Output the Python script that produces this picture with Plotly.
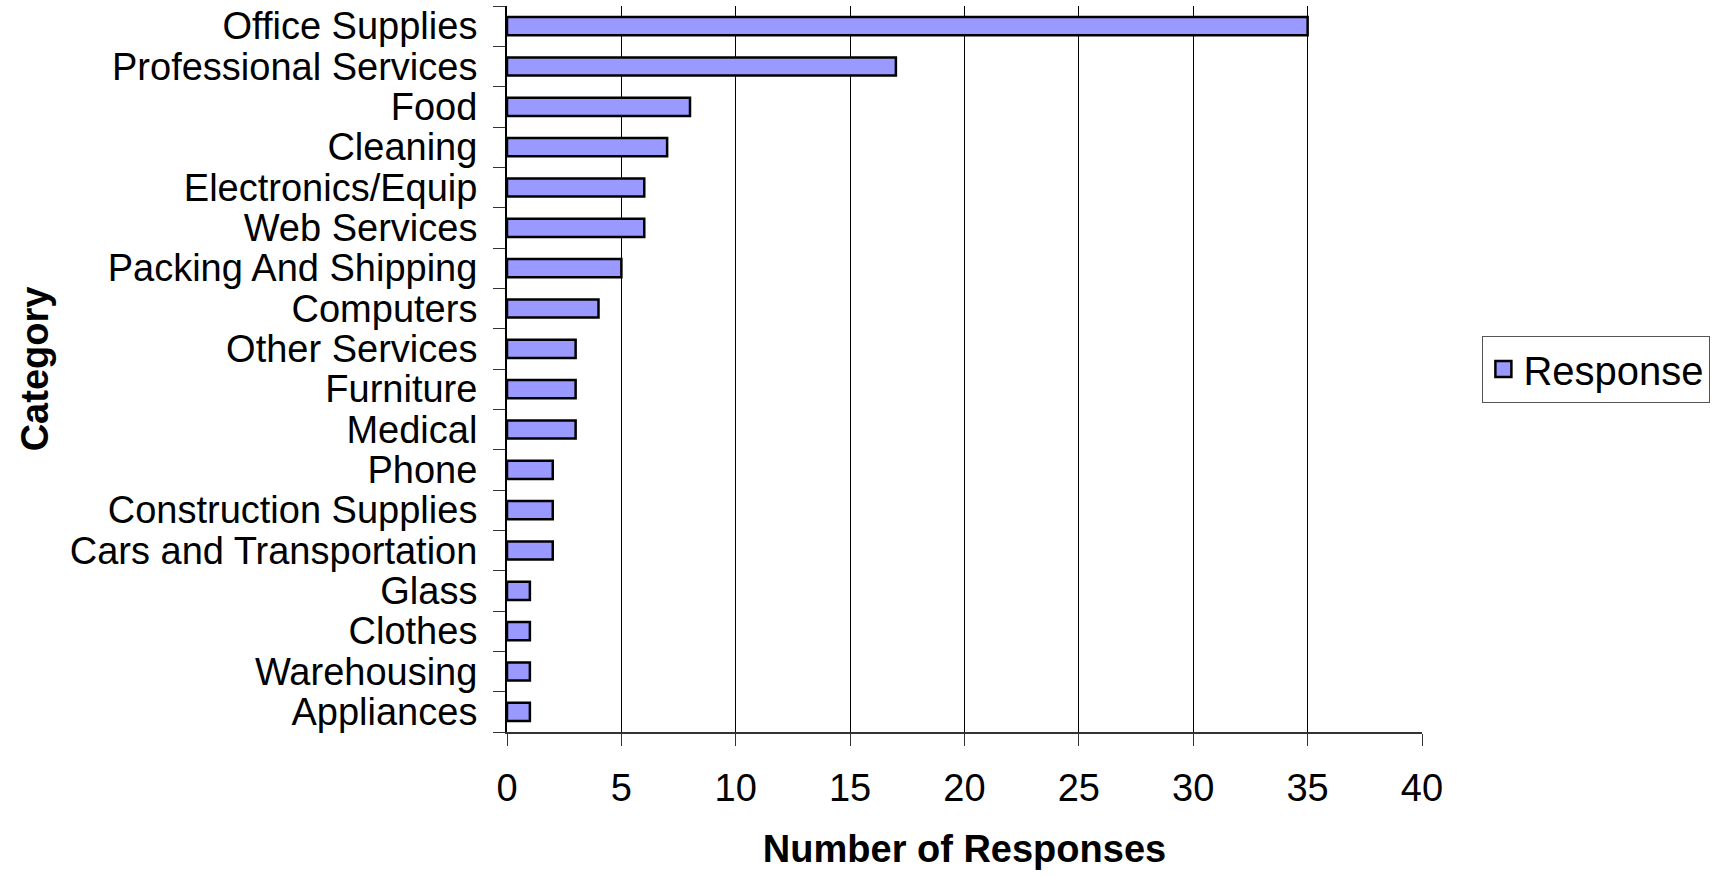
import plotly.graph_objects as go

# Survey results: number of responses per purchasing category
categories = [
    "Office Supplies", "Professional Services", "Food", "Cleaning",
    "Electronics/Equip", "Web Services", "Packing And Shipping", "Computers",
    "Other Services", "Furniture", "Medical", "Phone", "Construction Supplies",
    "Cars and Transportation", "Glass", "Clothes", "Warehousing", "Appliances",
]
responses = [35, 17, 8, 7, 6, 6, 5, 4, 3, 3, 3, 2, 2, 2, 1, 1, 1, 1]
x_ticks = [0, 5, 10, 15, 20, 25, 30, 35, 40]

FONT = "Liberation Sans, Arial, sans-serif"
BAR_FILL = "#9999FF"

fig = go.Figure()
fig.add_trace(
    go.Bar(
        x=responses,
        y=categories,
        orientation="h",
        name="Response",
        width=0.45,
        marker=dict(color=BAR_FILL, line=dict(color="black", width=2.5)),
        showlegend=False,
    )
)
# Legend entry with a larger square swatch
fig.add_trace(
    go.Scatter(
        x=[None],
        y=[None],
        mode="markers",
        name="Response",
        marker=dict(symbol="square", size=23, color=BAR_FILL,
                    line=dict(color="black", width=2.5)),
        showlegend=True,
    )
)

fig.update_layout(
    width=1721,
    height=878,
    margin=dict(l=507, r=299, t=6, b=146),
    paper_bgcolor="white",
    plot_bgcolor="white",
    font=dict(family=FONT, size=38, color="black"),
    legend=dict(
        x=1.066, xanchor="left", y=0.5, yanchor="middle",
        bordercolor="#555555", borderwidth=1,
        font=dict(family=FONT, size=40, color="black"),
        itemwidth=30,
    ),
    xaxis=dict(
        range=[0, 40],
        tickvals=x_ticks,
        ticks="outside", ticklen=12, tickcolor="#333333", tickwidth=1,
        ticklabelstandoff=9,
        showgrid=True, gridcolor="black", gridwidth=1,
        showline=True, linecolor="#333333", linewidth=2,
        zeroline=False,
        title=dict(text="<b>Number of Responses</b>", standoff=28,
                   font=dict(family=FONT, size=38)),
        tickfont=dict(family=FONT, size=38),
    ),
    yaxis=dict(
        type="category",
        categoryorder="array",
        categoryarray=categories,
        tickmode="array",
        tickvals=categories,
        ticktext=categories,
        range=[len(categories) - 0.5, -0.5],
        tickson="boundaries",
        ticks="outside", ticklen=12, tickcolor="#333333", tickwidth=1,
        ticklabelstandoff=20,
        showgrid=False,
        showline=True, linecolor="black", linewidth=2,
        title=dict(text="<b>Category</b>", standoff=9,
                   font=dict(family=FONT, size=38)),
        tickfont=dict(family=FONT, size=38),
    ),
)

fig.write_html("out.html")
